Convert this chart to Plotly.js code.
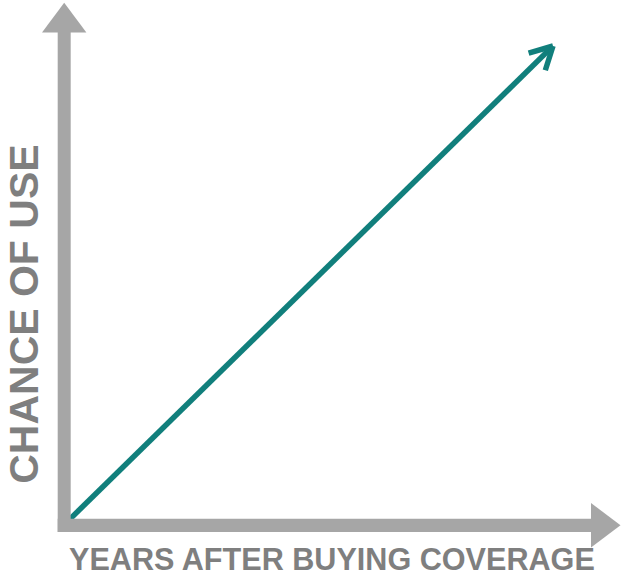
<!DOCTYPE html>
<html>
<head>
<meta charset="utf-8">
<script src="https://cdn.plot.ly/plotly-3.0.1.min.js"></script>
<style>html,body{margin:0;padding:0;background:#fff;}#chart{width:623px;height:584px;}</style>
</head>
<body>
<div id="chart"></div>
<script>
// ---- data ----
var years = [0, 10];          // years after buying coverage (conceptual)
var chanceOfUse = [0, 10];    // chance of use (conceptual)
var xTitle = "YEARS AFTER BUYING COVERAGE";
var yTitle = "CHANCE OF USE";

// ---- layout geometry (pixels) ----
var W = 623, H = 584;
var L = 70, R = 553, T = 46, B = 519;
function px(x) { return (x - L) / (R - L); }
function py(y) { return (B - y) / (B - T); }

var axisGray = "#a6a6a6";
var textGray = "#7f7f7f";
var teal = "#117f7c";

var shapes = [
  // vertical axis shaft
  {type: "rect", xref: "paper", yref: "paper", x0: px(57.7), x1: px(70.7), y0: py(532), y1: py(32), fillcolor: axisGray, line: {width: 0}, layer: "above"},
  // horizontal axis shaft
  {type: "rect", xref: "paper", yref: "paper", x0: px(57.7), x1: px(592), y0: py(532), y1: py(518.7), fillcolor: axisGray, line: {width: 0}, layer: "above"},
  // vertical arrowhead
  {type: "path", xref: "paper", yref: "paper",
   path: "M" + px(42) + "," + py(32.5) + " L" + px(64.2) + "," + py(2.7) + " L" + px(86.4) + "," + py(32.5) + " Z",
   fillcolor: axisGray, line: {width: 0}, layer: "above"},
  // horizontal arrowhead
  {type: "path", xref: "paper", yref: "paper",
   path: "M" + px(591) + "," + py(503) + " L" + px(620.5) + "," + py(525.3) + " L" + px(591) + "," + py(547.6) + " Z",
   fillcolor: axisGray, line: {width: 0}, layer: "above"}
];

// open chevron arrowhead at the end of the line: two short arms (pixel offsets from the tip)
var n = years.length;
var armLen = 27, halfAngle = 28 * Math.PI / 180;
var dirX = (R - L), dirY = -(B - T);               // screen direction of the line
var dl = Math.sqrt(dirX * dirX + dirY * dirY);
var bx = -dirX / dl, by = -dirY / dl;                // backward unit vector
function rot(a) { return [bx * Math.cos(a) - by * Math.sin(a), bx * Math.sin(a) + by * Math.cos(a)]; }
var arm1 = rot(halfAngle), arm2 = rot(-halfAngle);

var annotations = [
  {x: years[n - 1], y: chanceOfUse[n - 1], xref: "x", yref: "y",
   ax: arm1[0] * armLen, ay: arm1[1] * armLen, showarrow: true, arrowhead: 0, arrowwidth: 5.5,
   arrowcolor: teal, text: ""},
  {x: years[n - 1], y: chanceOfUse[n - 1], xref: "x", yref: "y",
   ax: arm2[0] * armLen, ay: arm2[1] * armLen, showarrow: true, arrowhead: 0, arrowwidth: 5.5,
   arrowcolor: teal, text: ""},
  {xref: "paper", yref: "paper", x: px(331.5), y: py(559), xanchor: "center", yanchor: "middle",
   text: xTitle, showarrow: false,
   font: {family: "Liberation Sans, Arial, sans-serif", size: 30.6, color: textGray, weight: "bold"}},
  {xref: "paper", yref: "paper", x: px(23.3), y: py(314.5), xanchor: "center", yanchor: "middle",
   text: yTitle, showarrow: false, textangle: -90,
   font: {family: "Liberation Sans, Arial, sans-serif", size: 41, color: textGray, weight: "bold"}}
];

var trace = {
  x: years, y: chanceOfUse, type: "scatter", mode: "lines",
  line: {color: teal, width: 5.5}, hoverinfo: "skip", showlegend: false
};

var layout = {
  width: W, height: H,
  margin: {l: L, r: W - R, t: T, b: H - B, pad: 0},
  paper_bgcolor: "#ffffff", plot_bgcolor: "#ffffff",
  xaxis: {range: [years[0], years[n - 1]], visible: false, fixedrange: true},
  yaxis: {range: [chanceOfUse[0], chanceOfUse[n - 1]], visible: false, fixedrange: true},
  shapes: shapes,
  annotations: annotations,
  showlegend: false
};

Plotly.newPlot("chart", [trace], layout, {displayModeBar: false, staticPlot: true});
</script>
</body>
</html>
